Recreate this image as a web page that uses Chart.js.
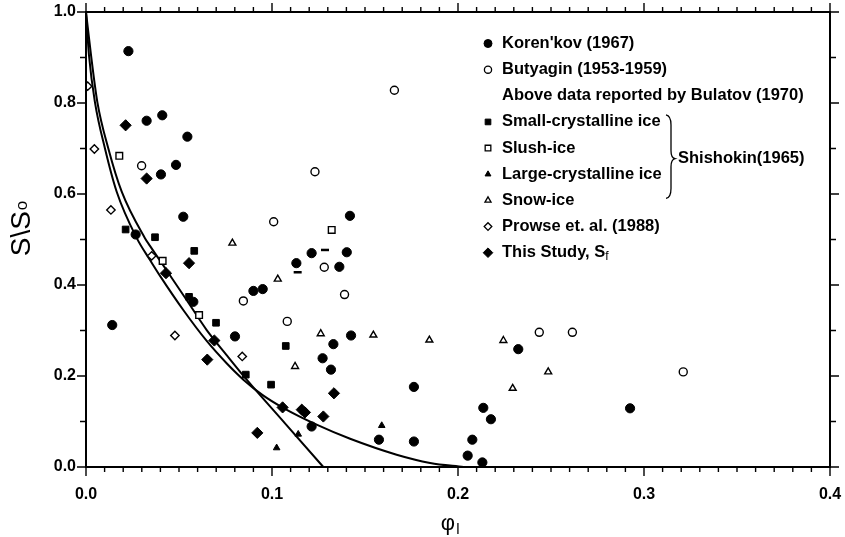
<!DOCTYPE html>
<html>
<head>
<meta charset="utf-8">
<script src="https://cdn.jsdelivr.net/npm/chart.js@4.4.0/dist/chart.umd.min.js"></script>
<style>
  html, body { margin: 0; padding: 0; background: #fff; }
  #wrap { width: 845px; height: 537px; }
</style>
</head>
<body>
<div id="wrap"><canvas id="chart" width="845" height="537"></canvas></div>
<script>
// values, [phi_l, S/So]
const korenkov = [
  [0.0141, 0.312], [0.0228, 0.914], [0.0267, 0.511], [0.0326, 0.761], [0.0403, 0.643],
  [0.0410, 0.773], [0.0484, 0.664], [0.0523, 0.550], [0.0545, 0.726], [0.0577, 0.363],
  [0.0801, 0.287], [0.0900, 0.387], [0.0950, 0.391], [0.1131, 0.448], [0.1213, 0.470],
  [0.1213, 0.089], [0.1272, 0.239], [0.1317, 0.214], [0.1330, 0.270], [0.1362, 0.440],
  [0.1402, 0.472], [0.1419, 0.552], [0.1425, 0.289], [0.1575, 0.060], [0.1763, 0.056],
  [0.1763, 0.176], [0.2052, 0.025], [0.2077, 0.060], [0.2131, 0.010], [0.2136, 0.130],
  [0.2177, 0.105], [0.2324, 0.259], [0.2925, 0.129]
];
const butyagin = [
  [0.0299, 0.662], [0.0846, 0.365], [0.1009, 0.539], [0.1082, 0.320], [0.1231, 0.649],
  [0.1281, 0.439], [0.1390, 0.379], [0.1658, 0.828], [0.2437, 0.296], [0.2615, 0.296],
  [0.3211, 0.209]
];
const smallCrystalline = [
  [0.0213, 0.522], [0.0371, 0.505], [0.0554, 0.374], [0.0582, 0.475], [0.0699, 0.317],
  [0.0859, 0.203], [0.0995, 0.181], [0.1074, 0.266]
];
const slushIce = [[0.0179, 0.684], [0.0412, 0.453], [0.0608, 0.334], [0.1321, 0.521]];
const largeCrystalline = [[0.1025, 0.042], [0.1141, 0.072], [0.1590, 0.091]];
const snowIce = [
  [0.0787, 0.492], [0.1031, 0.413], [0.1124, 0.221], [0.1262, 0.293], [0.1545, 0.290],
  [0.1846, 0.279], [0.2244, 0.278], [0.2294, 0.173], [0.2485, 0.209]
];
const prowse = [
  [0.0009, 0.837], [0.0045, 0.699], [0.0134, 0.565], [0.0353, 0.464], [0.0478, 0.289],
  [0.0840, 0.243]
];
const thisStudy = [
  [0.0213, 0.751], [0.0326, 0.634], [0.0430, 0.426], [0.0554, 0.448], [0.0652, 0.236],
  [0.0690, 0.278], [0.0921, 0.075], [0.1057, 0.131], [0.1160, 0.126], [0.1177, 0.120],
  [0.1276, 0.111], [0.1333, 0.162]
];
// broken marks in the scan
const partialMarks = [[0.1138, 0.428], [0.1285, 0.477]];

// the two fitted curves
const curveSteep = [
  [0, 1.0], [0.0027, 0.905], [0.0061, 0.802], [0.0120, 0.700], [0.0192, 0.605],
  [0.0317, 0.503], [0.0344, 0.486], [0.0434, 0.432], [0.0541, 0.367], [0.0649, 0.301],
  [0.0756, 0.246], [0.0864, 0.192], [0.1070, 0.096], [0.1276, 0.0]
];
const curveTail = [
  [0, 1.0], [0.0016, 0.905], [0.0048, 0.802], [0.0102, 0.700], [0.0165, 0.605],
  [0.0273, 0.503], [0.0344, 0.455], [0.0398, 0.420], [0.0523, 0.345], [0.0649, 0.277],
  [0.0756, 0.228], [0.0846, 0.192], [0.0950, 0.158], [0.1060, 0.130], [0.1240, 0.093],
  [0.1420, 0.062], [0.1670, 0.027], [0.1850, 0.009], [0.2030, 0.0]
];

const xMin = 0, xMax = 0.4, xMajor = 0.1, xMinor = 0.01;
const yMin = 0, yMax = 1.0, yMajor = 0.2, yMinor = 0.1;

const toXY = arr => arr.map(p => ({ x: p[0], y: p[1] }));
const FONT = '"Liberation Sans", Arial, Helvetica, sans-serif';
const LEGEND_FONT = 'bold 16.5px ' + FONT;

const series = [
  { label: "Koren'kov (1967)", data: korenkov, style: 'circle', fill: true, r: 4.6, lr: 4 },
  { label: 'Butyagin (1953-1959)', data: butyagin, style: 'circle', fill: false, r: 4, lr: 3.6 },
  { label: 'Small-crystalline ice', data: smallCrystalline, style: 'rect', fill: true, r: 4.7, lr: 4 },
  { label: 'Slush-ice', data: slushIce, style: 'rect', fill: false, r: 4.7, lr: 4 },
  { label: 'Large-crystalline ice', data: largeCrystalline, style: 'triangle', fill: true, r: 3.8, lr: 3.4 },
  { label: 'Snow-ice', data: snowIce, style: 'triangle', fill: false, r: 4, lr: 3.5 },
  { label: 'Prowse et. al. (1988)', data: prowse, style: 'rectRot', fill: false, r: 4.2, lr: 3.8 },
  { label: 'This Study, S', sub: 'f', data: thisStudy, style: 'rectRot', fill: true, r: 5.6, lr: 4.8 }
];

const datasets = series.map(s => ({
  label: s.label,
  data: toXY(s.data),
  showLine: false,
  pointStyle: s.style,
  pointRadius: s.r,
  pointHoverRadius: s.r,
  pointBackgroundColor: s.fill ? '#000' : '#fff',
  pointBorderColor: '#000',
  pointBorderWidth: s.fill ? 1 : 1.4
}));
datasets.push({
  label: 'partial',
  data: toXY(partialMarks),
  showLine: false,
  pointStyle: 'line',
  pointRadius: 4,
  pointBorderColor: '#000',
  pointBorderWidth: 2.5
});
[curveSteep, curveTail].forEach((c, i) => datasets.push({
  label: 'curve' + i,
  data: toXY(c),
  showLine: true,
  borderColor: '#000',
  borderWidth: 2,
  pointRadius: 0,
  cubicInterpolationMode: 'monotone',
  clip: false
}));

// frame, outward ticks, legend and axis titles
const decorations = {
  id: 'decorations',
  afterDraw(chart) {
    const { ctx, chartArea: a, scales: { x, y } } = chart;
    ctx.save();
    ctx.strokeStyle = '#000';
    ctx.lineWidth = 2;
    ctx.strokeRect(a.left, a.top, a.right - a.left, a.bottom - a.top);

    ctx.lineWidth = 1.4;
    ctx.beginPath();
    const nx = Math.round((xMax - xMin) / xMinor);
    for (let i = 0; i <= nx; i++) {
      const px = x.getPixelForValue(xMin + i * xMinor);
      const len = i % Math.round(xMajor / xMinor) === 0 ? 9 : 5;
      ctx.moveTo(px, a.bottom); ctx.lineTo(px, a.bottom + len);
      ctx.moveTo(px, a.top); ctx.lineTo(px, a.top - len);
    }
    const ny = Math.round((yMax - yMin) / yMinor);
    for (let i = 0; i <= ny; i++) {
      const py = y.getPixelForValue(yMin + i * yMinor);
      const len = i % Math.round(yMajor / yMinor) === 0 ? 9 : 6;
      ctx.moveTo(a.left, py); ctx.lineTo(a.left - len, py);
      ctx.moveTo(a.right, py); ctx.lineTo(a.right + len, py);
    }
    ctx.stroke();

    // legend
    const lx = a.left + 402, tx = a.left + 416;
    const rowY = i => a.top + 31.5 + i * 26.15;
    ctx.fillStyle = '#000';
    ctx.font = LEGEND_FONT;
    ctx.textBaseline = 'middle';
    ctx.textAlign = 'left';
    const rows = [0, 1, null, 2, 3, 4, 5, 6, 7];
    rows.forEach((si, i) => {
      const yy = rowY(i);
      if (si === null) {
        ctx.fillText('Above data reported by Bulatov (1970)', tx, yy);
        return;
      }
      const s = series[si];
      ctx.fillStyle = s.fill ? '#000' : '#fff';
      ctx.strokeStyle = '#000';
      ctx.lineWidth = s.fill ? 1 : 1.3;
      Chart.helpers.drawPoint(ctx, { pointStyle: s.style, radius: s.lr, rotation: 0, borderWidth: ctx.lineWidth }, lx, yy);
      ctx.fillStyle = '#000';
      ctx.font = LEGEND_FONT;
      ctx.fillText(s.label, tx, yy);
      if (s.sub) {
        const w = ctx.measureText(s.label).width;
        ctx.font = '12px ' + FONT;
        ctx.fillText(s.sub, tx + w, yy + 4);
        ctx.font = LEGEND_FONT;
      }
    });

    // brace grouping Shishokin entries
    const bx = a.left + 580, b0 = rowY(3) - 7, b1 = rowY(6) - 2, bm = (b0 + b1) / 2 + 2;
    ctx.lineWidth = 1.3;
    ctx.beginPath();
    ctx.moveTo(bx, b0);
    ctx.quadraticCurveTo(bx + 5, b0 + 1, bx + 5, b0 + 10);
    ctx.lineTo(bx + 5, bm - 8);
    ctx.quadraticCurveTo(bx + 5, bm - 1, bx + 9, bm);
    ctx.quadraticCurveTo(bx + 5, bm + 1, bx + 5, bm + 8);
    ctx.lineTo(bx + 5, b1 - 10);
    ctx.quadraticCurveTo(bx + 5, b1 - 1, bx, b1);
    ctx.stroke();
    ctx.fillText('Shishokin(1965)', bx + 12, bm);

    // axis titles
    ctx.textAlign = 'left';
    ctx.textBaseline = 'alphabetic';
    ctx.font = '22px ' + FONT;
    const phiW = ctx.measureText('φ').width;
    const xtX = (a.left + a.right) / 2 - 10 - phiW / 2;
    ctx.fillText('φ', xtX, 530);
    ctx.font = '15px ' + FONT;
    ctx.fillText('l', xtX + phiW + 1, 534);

    ctx.translate(30, 229);
    ctx.rotate(-Math.PI / 2);
    ctx.font = '28px ' + FONT;
    const main = 'S\\S';
    const mw = ctx.measureText(main).width;
    ctx.font = '17px ' + FONT;
    const ow = ctx.measureText('o').width;
    ctx.font = '28px ' + FONT;
    ctx.fillText(main, -(mw + ow) / 2, 0);
    ctx.font = '17px ' + FONT;
    ctx.fillText('o', -(mw + ow) / 2 + mw + 1, -3);
    ctx.restore();
  }
};

Chart.defaults.font.family = FONT;
Chart.defaults.color = '#000';

new Chart(document.getElementById('chart'), {
  type: 'scatter',
  data: { datasets },
  options: {
    responsive: false,
    animation: false,
    events: [],
    layout: { padding: { top: 12, right: 15, left: 0, bottom: 0 } },
    plugins: { legend: { display: false }, tooltip: { enabled: false } },
    scales: {
      x: {
        type: 'linear', min: xMin, max: xMax,
        afterFit: s => { s.height = 70; s.paddingLeft = 0; s.paddingRight = 0; },
        grid: { display: false, drawTicks: false },
        border: { display: false },
        ticks: { stepSize: xMajor, padding: 18, font: { size: 16, weight: 'bold' }, callback: v => v.toFixed(1) }
      },
      y: {
        type: 'linear', min: yMin, max: yMax,
        afterFit: s => { s.width = 86; s.paddingTop = 0; s.paddingBottom = 0; },
        grid: { display: false, drawTicks: false },
        border: { display: false },
        ticks: { stepSize: yMajor, padding: 10, font: { size: 16, weight: 'bold' }, callback: v => v.toFixed(1) }
      }
    }
  },
  plugins: [decorations]
});
</script>
</body>
</html>
